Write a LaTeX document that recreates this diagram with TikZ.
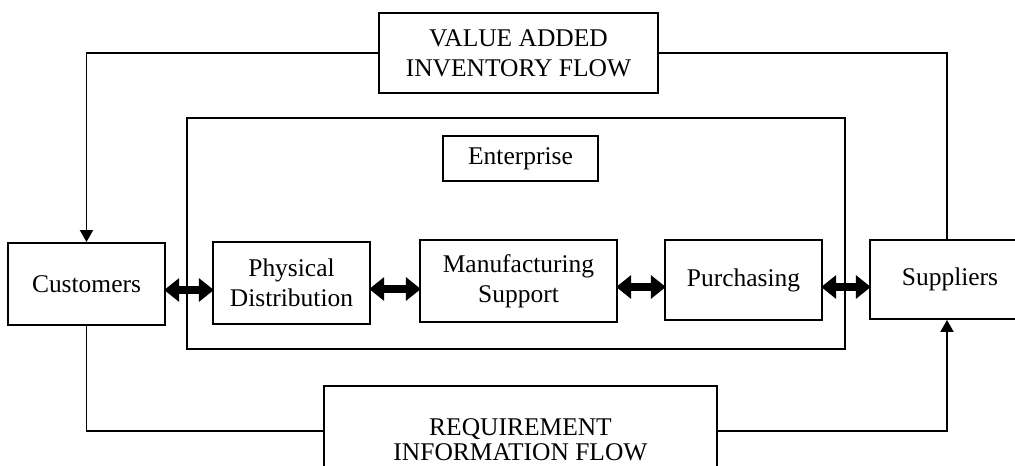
\documentclass[tikz,border=0pt]{standalone}
\usepackage{fontspec}
\setmainfont{Liberation Serif}
\usetikzlibrary{arrows.meta}
\begin{document}
\begin{tikzpicture}[x=0.02cm,y=-0.02cm,
  font=\fontsize{14.5}{17}\selectfont,
  box/.style={draw,line width=1.1pt,inner sep=0pt,align=center},
  flow/.style={line width=1.1pt},
  oneway/.style={flow,-{Triangle[length=0.24cm,width=0.26cm]}},
  twoway/.style={line width=0.16cm,
    {Triangle[length=0.3cm,width=0.46cm]}-{Triangle[length=0.3cm,width=0.46cm]},
    shorten <=-1pt,shorten >=-1pt}]

  \useasboundingbox (0,0) rectangle (1015,466);
  \fill[white] (0,0) rectangle (1015,466);
  \clip (0,0) rectangle (1015,466);

  % enterprise frame and its title
  \node[box,minimum width=13.16cm,minimum height=4.62cm] (ent) at (516,233.5) {};
  \node[box,minimum width=3.10cm,minimum height=0.90cm] (entlbl) at (520.5,158.5) {Enterprise};

  % outer partners
  \node[box,minimum width=3.14cm,minimum height=1.64cm] (cust) at (86.5,284) {Customers};
  \node[box,minimum width=3.20cm,minimum height=1.58cm] (sup) at (950,279.5) {Suppliers};

  % internal functions
  \node[box,minimum width=3.14cm,minimum height=1.64cm] (pd) at (291.5,283) {Physical\\Distribution};
  \node[box,minimum width=3.94cm,minimum height=1.64cm] (ms) at (518.5,281) {Manufacturing\\Support};
  \node[box,minimum width=3.14cm,minimum height=1.60cm] (pur) at (743.5,280) {Purchasing};

  % flow labels
  \node[box,minimum width=5.58cm,minimum height=1.60cm] (va) at (518.5,53) {VALUE ADDED\\INVENTORY FLOW};
  \node[box,minimum width=7.86cm,minimum height=1.80cm,
    label={[yshift=-0.17cm,align=center,font=\fontsize{14.5}{14.2}\selectfont]center:REQUIREMENT\\INFORMATION FLOW}] (req) at (520.5,431) {};

  % material flow: suppliers -> customers
  \draw[oneway] (va.west) -| (cust.north);
  \draw[flow] (va.east) -| ([xshift=-0.06cm]sup.north);

  % information flow: customers -> suppliers
  \draw[flow] (cust.south) |- (req.west);
  \draw[oneway] (req.east) -| ([xshift=-0.06cm]sup.south);

  % two-way links along the chain
  \draw[twoway] ([yshift=-0.12cm]cust.east) -- ([yshift=-0.12cm]cust.east -| pd.west);
  \draw[twoway] ([yshift=-0.12cm]pd.east) -- ([yshift=-0.12cm]pd.east -| ms.west);
  \draw[twoway] ([yshift=-0.12cm]ms.east) -- ([yshift=-0.12cm]ms.east -| pur.west);
  \draw[twoway] ([yshift=-0.14cm]pur.east) -- ([yshift=-0.14cm]pur.east -| sup.west);
\end{tikzpicture}
\end{document}
